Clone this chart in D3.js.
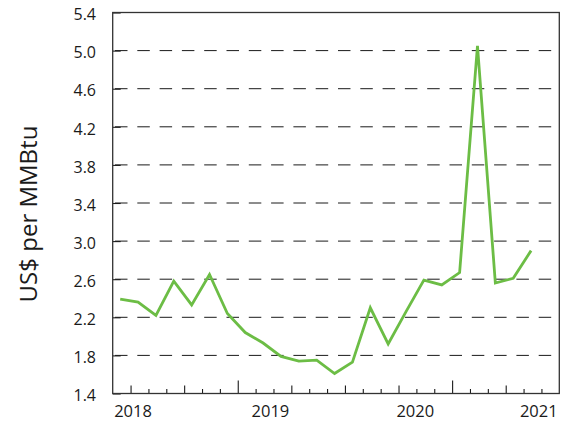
<!DOCTYPE html>
<html>
<head>
<meta charset="utf-8">
<script src="https://cdn.jsdelivr.net/npm/d3@7"></script>
<style>
  html, body { margin: 0; padding: 0; background: #fff; }
  svg { display: block; }
  text { font-family: "Open Sans", "Noto Sans", sans-serif; fill: #1a1a1a; }
</style>
</head>
<body>
<svg id="chart" width="563" height="421"></svg>
<script>
// ---- data ----
const pointIndex = d3.range(24);            // one point per monthly slot
const prices = [2.39, 2.36, 2.22, 2.58, 2.33, 2.65, 2.24, 2.04, 1.93, 1.79,
                1.74, 1.75, 1.61, 1.73, 2.30, 1.92, 2.26, 2.59, 2.54, 2.67,
                5.05, 2.56, 2.61, 2.90];
const yTickValues = [1.4, 1.8, 2.2, 2.6, 3.0, 3.4, 3.8, 4.2, 4.6, 5.0, 5.4];
const gridValues = [1.8, 2.2, 2.6, 3.0, 3.4, 3.8, 4.2, 4.6, 5.0];
const monthTicks = d3.range(1, 25);
const yearLabels = ["2018", "2019", "2020", "2021"];
const yearLabelAt = [1.14, 8.83, 16.94, 23.85];   // in slot units
const yTitle = "US$ per MMBtu";

// ---- layout ----
const svg = d3.select("#chart");
const pLeft = 112.7, pRight = 559.3, pTop = 12.5, pBottom = 393.5;

const x = d3.scaleLinear().domain([0, 25]).range([pLeft, pRight]);
const y = d3.scaleLinear().domain([1.4, 5.4]).range([pBottom, pTop]);

// gridlines
svg.append("g").selectAll("line").data(gridValues).join("line")
  .attr("x1", pLeft + 2.3).attr("x2", pRight - 6.5)
  .attr("y1", d => y(d)).attr("y2", d => y(d))
  .attr("stroke", "#1a1a1a").attr("stroke-width", 1)
  .attr("stroke-dasharray", "12.5,9.8");

// y axis
const yAxis = svg.append("g").attr("transform", `translate(${pLeft},0)`)
  .call(d3.axisLeft(y).tickValues(yTickValues).tickFormat(d3.format(".1f"))
        .tickSizeInner(-8).tickSizeOuter(0).tickPadding(16.7));
yAxis.select(".domain").remove();
yAxis.selectAll(".tick line").attr("stroke", "#1a1a1a").attr("stroke-width", 1.1);
yAxis.selectAll(".tick text")
  .style("font-size", "16px").attr("dy", "0.45em").attr("fill", "#1a1a1a");

// x axis month ticks (varying length)
const tickLen = d => (d === 7 || d === 19) ? 13 : (d % 3 === 1 ? 8 : 4.5);
const xAxis = svg.append("g").attr("transform", `translate(0,${pBottom})`)
  .call(d3.axisBottom(x).tickValues(monthTicks).tickFormat("").tickSizeOuter(0));
xAxis.select(".domain").remove();
xAxis.selectAll(".tick line")
  .attr("y2", d => -tickLen(d)).attr("stroke", "#1a1a1a").attr("stroke-width", 1.1);

// year labels
svg.append("g").selectAll("text").data(yearLabels).join("text")
  .attr("x", (d, i) => x(yearLabelAt[i]))
  .attr("y", pBottom + 23)
  .attr("text-anchor", "middle")
  .style("font-size", "16.5px")
  .text(d => d);

// frame
svg.append("rect")
  .attr("x", pLeft).attr("y", pTop)
  .attr("width", pRight - pLeft).attr("height", pBottom - pTop)
  .attr("fill", "none").attr("stroke", "#333").attr("stroke-width", 1.3);

// line
const line = d3.line()
  .x(d => x(d + 0.42))
  .y((d, i) => y(prices[i]));
svg.append("path")
  .datum(pointIndex)
  .attr("d", line)
  .attr("fill", "none")
  .attr("stroke", "#6cbd45")
  .attr("stroke-width", 2.8)
  .attr("stroke-linejoin", "miter")
  .attr("stroke-miterlimit", 10);

// y title
svg.append("text")
  .attr("transform", `translate(37,214) rotate(-90)`)
  .attr("text-anchor", "middle")
  .style("font-size", "24px")
  .text(yTitle);
</script>
</body>
</html>
